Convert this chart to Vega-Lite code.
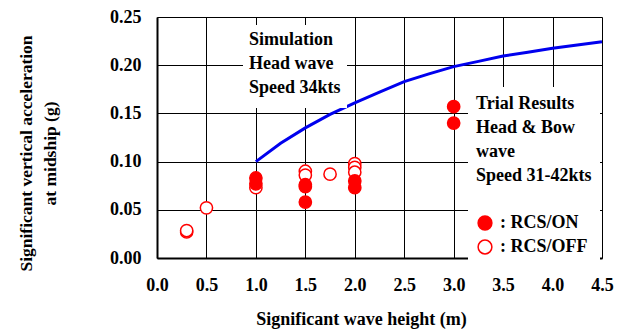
{
  "$schema": "https://vega.github.io/schema/vega-lite/v6.json",
  "width": 445,
  "height": 241,
  "autosize": {"type": "none"},
  "padding": {"left": 157, "top": 17, "right": 22, "bottom": 75},
  "background": "white",
  "config": {
    "font": "Liberation Serif",
    "view": {"stroke": null},
    "axis": {
      "labelFont": "Liberation Serif", "labelFontWeight": "bold", "labelFontSize": 18, "labelColor": "black",
      "titleFont": "Liberation Serif", "titleFontWeight": "bold", "titleFontSize": 18, "titleColor": "black",
      "domainColor": "black", "domainWidth": 2, "ticks": false,
      "gridColor": "black", "gridWidth": 1, "gridOpacity": 1
    }
  },
  "datasets": {
    "sim": [
      {"h": 1.0, "acc": 0.100, "series": "Simulation"}, {"h": 1.25, "acc": 0.119, "series": "Simulation"},
      {"h": 1.5, "acc": 0.135, "series": "Simulation"}, {"h": 1.75, "acc": 0.149, "series": "Simulation"},
      {"h": 2.0, "acc": 0.161, "series": "Simulation"}, {"h": 2.25, "acc": 0.172, "series": "Simulation"},
      {"h": 2.5, "acc": 0.183, "series": "Simulation"}, {"h": 2.75, "acc": 0.191, "series": "Simulation"},
      {"h": 3.0, "acc": 0.1985, "series": "Simulation"}, {"h": 3.25, "acc": 0.204, "series": "Simulation"},
      {"h": 3.5, "acc": 0.2095, "series": "Simulation"}, {"h": 3.75, "acc": 0.2135, "series": "Simulation"},
      {"h": 4.0, "acc": 0.2175, "series": "Simulation"}, {"h": 4.25, "acc": 0.221, "series": "Simulation"},
      {"h": 4.5, "acc": 0.2244, "series": "Simulation"}
    ],
    "trial": [
      {"h": 0.3, "acc": 0.027, "status": "RCS/OFF"},
      {"h": 0.3, "acc": 0.0285, "status": "RCS/OFF"},
      {"h": 0.5, "acc": 0.052, "status": "RCS/OFF"},
      {"h": 1.0, "acc": 0.073, "status": "RCS/OFF"},
      {"h": 1.5, "acc": 0.090, "status": "RCS/OFF"},
      {"h": 1.5, "acc": 0.086, "status": "RCS/OFF"},
      {"h": 1.75, "acc": 0.087, "status": "RCS/OFF"},
      {"h": 2.0, "acc": 0.098, "status": "RCS/OFF"},
      {"h": 2.0, "acc": 0.094, "status": "RCS/OFF"},
      {"h": 2.0, "acc": 0.089, "status": "RCS/OFF"},
      {"h": 1.0, "acc": 0.083, "status": "RCS/ON"},
      {"h": 1.0, "acc": 0.077, "status": "RCS/ON"},
      {"h": 1.5, "acc": 0.076, "status": "RCS/ON"},
      {"h": 1.5, "acc": 0.074, "status": "RCS/ON"},
      {"h": 1.5, "acc": 0.058, "status": "RCS/ON"},
      {"h": 2.0, "acc": 0.080, "status": "RCS/ON"},
      {"h": 2.0, "acc": 0.073, "status": "RCS/ON"},
      {"h": 3.0, "acc": 0.157, "status": "RCS/ON"},
      {"h": 3.0, "acc": 0.140, "status": "RCS/ON"}
    ]
  },
  "layer": [
    {
      "data": {"name": "sim"},
      "mark": {"type": "line", "strokeWidth": 3},
      "encoding": {
        "x": {
          "field": "h", "type": "quantitative",
          "scale": {"domain": [0, 4.5], "nice": false, "zero": false},
          "axis": {
            "values": [0, 0.5, 1, 1.5, 2, 2.5, 3, 3.5, 4, 4.5], "grid": true,
            "format": ".1f", "labelPadding": 18, "labelFlush": false,
            "title": "Significant wave height (m)", "titlePadding": 16, "titleX": 204
          }
        },
        "y": {
          "field": "acc", "type": "quantitative",
          "scale": {"domain": [0, 0.25], "nice": false},
          "axis": {
            "values": [0, 0.05, 0.1, 0.15, 0.2, 0.25], "grid": true,
            "format": ".2f", "labelPadding": 16, "labelFlush": false,
            "title": ["Significant vertical acceleration", "at midship (g)"],
            "titleFontSize": 17.5, "titleLineHeight": 24, "titlePadding": 50, "titleY": 136
          }
        },
        "stroke": {
          "field": "series", "type": "nominal",
          "scale": {"domain": ["Simulation"], "range": ["#0000ee"]},
          "legend": {
            "orient": "none", "legendX": 86, "legendY": 8,
            "title": ["Simulation", "Head wave", "Speed 34kts"],
            "titleFont": "Liberation Serif", "titleFontWeight": "bold", "titleFontSize": 18, "titleLineHeight": 24,
            "titleColor": "black", "titleAnchor": "start", "titlePadding": 4,
            "labelExpr": "''", "labelFontSize": 1,
            "symbolOpacity": 0, "symbolSize": 1, "symbolStrokeWidth": 0,
            "rowPadding": 0, "padding": 6, "fillColor": "white"
          }
        }
      }
    },
    {
      "data": {"name": "trial"},
      "mark": {"type": "point", "shape": "circle", "filled": true, "size": 150, "stroke": "#ff0000", "strokeWidth": 1.5, "opacity": 1},
      "encoding": {
        "x": {"field": "h", "type": "quantitative"},
        "y": {"field": "acc", "type": "quantitative"},
        "fill": {
          "field": "status", "type": "nominal",
          "scale": {"domain": ["RCS/ON", "RCS/OFF"], "range": ["#ff0000", "#ffffff"]},
          "legend": {
            "orient": "none", "legendX": 311, "legendY": 70,
            "title": ["Trial Results", "Head & Bow", "wave", "Speed 31-42kts"],
            "titleFont": "Liberation Serif", "titleFontWeight": "bold", "titleFontSize": 18, "titleLineHeight": 24,
            "titleColor": "black", "titlePadding": 29, "titleAnchor": "start",
            "labelFont": "Liberation Serif", "labelFontWeight": "bold", "labelFontSize": 18, "labelColor": "black",
            "labelExpr": "': ' + datum.label", "labelOffset": 6,
            "symbolType": "circle", "symbolSize": 190, "symbolStrokeColor": "#ff0000", "symbolStrokeWidth": 1.5,
            "rowPadding": 4, "padding": 8, "fillColor": "white"
          }
        }
      }
    }
  ]
}
